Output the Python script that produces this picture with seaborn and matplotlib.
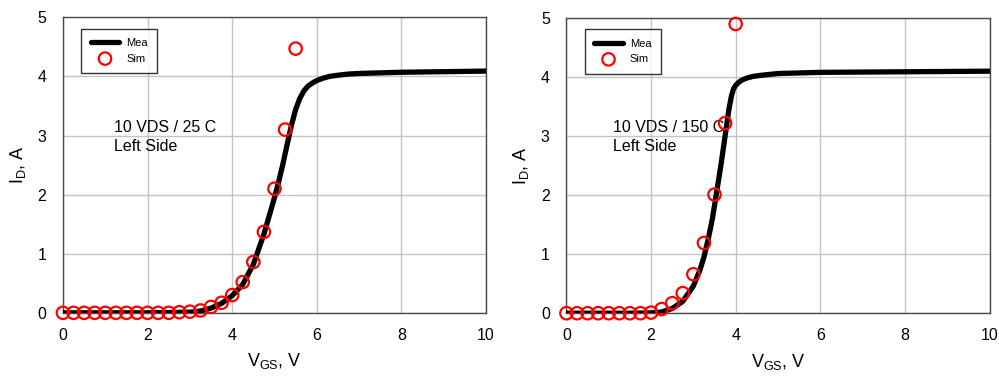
import matplotlib
matplotlib.use("Agg")
import matplotlib.pyplot as plt
import seaborn as sns
import pandas as pd

# ---- data ----
mea_left_x = [0, 0.5, 1.0, 1.5, 2.0, 2.5, 3.0, 3.25, 3.5, 3.75, 4.0, 4.25, 4.5, 4.75, 4.9, 5.0, 5.1, 5.2, 5.3, 5.4, 5.5, 5.6, 5.7, 5.8, 5.9, 6.0, 6.15, 6.3, 6.5, 6.75, 7.0, 7.5, 8.0, 9.0, 10.0]
mea_left_y = [0, 0, 0, 0, 0, 0.005, 0.01, 0.03, 0.08, 0.16, 0.29, 0.48, 0.82, 1.33, 1.7, 1.95, 2.22, 2.52, 2.85, 3.17, 3.44, 3.63, 3.76, 3.84, 3.89, 3.93, 3.97, 4.0, 4.02, 4.04, 4.05, 4.06, 4.07, 4.08, 4.09]
sim_left_x = [0, 0.25, 0.5, 0.75, 1.0, 1.25, 1.5, 1.75, 2.0, 2.25, 2.5, 2.75, 3.0, 3.25, 3.5, 3.75, 4.0, 4.25, 4.5, 4.75, 5.0, 5.25, 5.5]
sim_left_y = [0, 0, 0, 0, 0, 0, 0, 0, 0, 0, 0, 0.01, 0.02, 0.04, 0.1, 0.17, 0.3, 0.52, 0.86, 1.37, 2.1, 3.1, 4.47]

mea_right_x = [0, 0.5, 1.0, 1.5, 2.0, 2.25, 2.5, 2.75, 3.0, 3.15, 3.25, 3.35, 3.45, 3.55, 3.65, 3.72, 3.78, 3.84, 3.9, 3.95, 4.0, 4.07, 4.15, 4.25, 4.4, 4.6, 5.0, 5.5, 6.0, 8.0, 10.0]
mea_right_y = [0, 0, 0, 0, 0.005, 0.02, 0.08, 0.2, 0.46, 0.72, 0.95, 1.25, 1.6, 2.05, 2.5, 2.85, 3.15, 3.45, 3.68, 3.8, 3.86, 3.91, 3.95, 3.98, 4.01, 4.03, 4.06, 4.07, 4.08, 4.09, 4.1]
sim_right_x = [0, 0.25, 0.5, 0.75, 1.0, 1.25, 1.5, 1.75, 2.0, 2.25, 2.5, 2.75, 3.0, 3.25, 3.5, 3.75, 4.0]
sim_right_y = [0, 0, 0, 0, 0, 0, 0, 0, 0.01, 0.07, 0.17, 0.34, 0.66, 1.19, 2.01, 3.22, 4.9]

panel_notes = ["10 VDS / 25 C\nLeft Side", "10 VDS / 150 C\nLeft Side"]
note_x = [1.2, 1.1]
x_ticks = [0, 2, 4, 6, 8, 10]
y_ticks = [0, 1, 2, 3, 4, 5]

sns.set_theme(style="whitegrid")
plt.rcParams['font.family'] = ['Liberation Sans', 'DejaVu Sans']
plt.rcParams['mathtext.fontset'] = 'custom'
plt.rcParams['mathtext.rm'] = 'Liberation Sans'
plt.rcParams['mathtext.it'] = 'Liberation Sans'
plt.rcParams['text.color'] = 'black'
plt.rcParams['axes.labelcolor'] = 'black'

fig = plt.figure(figsize=(9.99, 3.76), dpi=100)
ax1 = fig.add_axes([0.063, 0.168, 0.4235, 0.786])
ax2 = fig.add_axes([0.567, 0.167, 0.4235, 0.785])

panels = [
    (ax1, mea_left_x, mea_left_y, sim_left_x, sim_left_y, panel_notes[0], note_x[0]),
    (ax2, mea_right_x, mea_right_y, sim_right_x, sim_right_y, panel_notes[1], note_x[1]),
]

for ax, mx, my, sx, sy, note, nx in panels:
    dfm = pd.DataFrame({"VGS": mx, "ID": my})
    dfs = pd.DataFrame({"VGS": sx, "ID": sy})
    sns.lineplot(data=dfm, x="VGS", y="ID", ax=ax, color="black", linewidth=3.8,
                 label="Mea", zorder=3)
    sns.scatterplot(data=dfs, x="VGS", y="ID", ax=ax, marker="o", s=80,
                    facecolor="none", edgecolor="red", linewidth=1.6,
                    label="Sim", zorder=4, clip_on=False)
    for ln in ax.get_lines():
        ln.set_solid_joinstyle("round")
        ln.set_solid_capstyle("round")
    ax.set_xlim(0, 10)
    ax.set_ylim(0, 5)
    ax.set_xticks(x_ticks)
    ax.set_yticks(y_ticks)
    ax.grid(True, color="#c4c4c4", linewidth=1.0)
    ax.set_facecolor("white")
    for sp in ax.spines.values():
        sp.set_color("#4a4a4a")
        sp.set_linewidth(1.0)
    ax.tick_params(axis="both", which="both", labelsize=11.5, labelcolor="black",
                   length=0)
    ax.tick_params(axis="x", pad=11)
    ax.tick_params(axis="y", pad=12)
    ax.set_xlabel("V$_{\\mathregular{GS}}$, V", fontsize=13, labelpad=6)
    ax.set_ylabel("I$_{\\mathregular{D}}$, A", fontsize=13, labelpad=7)
    ax.text(nx, 3.27, note, fontsize=11.5, va="top", ha="left", linespacing=1.35, zorder=2)
    leg = ax.legend(loc="upper left", bbox_to_anchor=(0.043, 0.962), fontsize=8,
                    frameon=True, fancybox=False, edgecolor="black",
                    handlelength=2.6, borderpad=0.85, labelspacing=0.5,
                    handletextpad=0.6, borderaxespad=0)
    leg.get_frame().set_linewidth(1.0)
    for t in leg.get_texts():
        t.set_color("black")

fig.savefig("out.png", dpi=100)
